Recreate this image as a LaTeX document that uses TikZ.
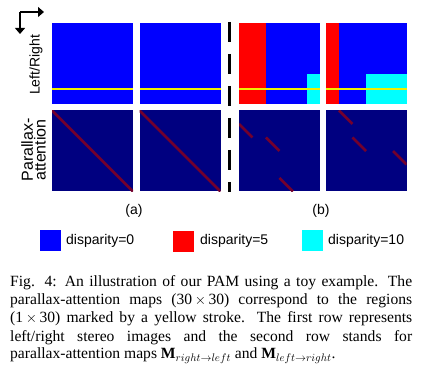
\documentclass[tikz,border=0pt]{standalone}
\usepackage{fontspec}
\setmainfont{Liberation Serif}
\newfontfamily\lsans{Liberation Sans}
\usetikzlibrary{arrows.meta}
\definecolor{pblue}{RGB}{0,0,255}
\definecolor{pred}{RGB}{255,0,0}
\definecolor{pcyan}{RGB}{0,255,255}
\definecolor{pnavy}{RGB}{0,0,128}
\definecolor{pdiag}{RGB}{115,0,45}
\definecolor{pyellow}{RGB}{240,240,0}
\begin{document}
\begin{tikzpicture}[x=1pt,y=-1pt,
  panel/.style={minimum width=81pt, minimum height=81pt, inner sep=0pt, outer sep=0pt, draw=none},
  yline/.style={draw=pyellow, line width=2pt},
  diagline/.style={draw=pdiag, line width=2.6pt},
  lab/.style={inner sep=0pt, font=\lsans\fontsize{14}{16}\selectfont},
  legsq/.style={minimum width=21pt, minimum height=21pt, inner sep=0pt, anchor=north west},
  legtxt/.style={lab, anchor=base west},
  captxt/.style={inner sep=0pt, anchor=base west, font=\fontsize{15.6}{17}\selectfont},
  axisarrow/.style={line width=1.2pt, -{Triangle[length=6pt,width=10pt]}},
  sepline/.style={line width=3pt, dash pattern=on 20pt off 12pt}
]
\path[use as bounding box, fill=white] (0,0) rectangle (421,374);

% axis icon
\coordinate (corner) at (20,12);
\coordinate (xend) at (44,12);
\coordinate (yend) at (20,34);
\draw[axisarrow] (corner) -- (xend);
\draw[axisarrow] (corner) -- (yend);

% top row panels
\node[panel, fill=pblue] (L1) at (92.5,63.5) {};
\node[panel, fill=pblue] (L2) at (180,63.5) {};
\node[panel, fill=pblue] (L3) at (279.5,63.5) {};
\node[panel, fill=pblue] (L4) at (366,63.5) {};
% bottom row panels
\node[panel, fill=pnavy] (A1) at (92.5,151) {};
\node[panel, fill=pnavy] (A2) at (180,151) {};
\node[panel, fill=pnavy] (A3) at (279.5,151) {};
\node[panel, fill=pnavy] (A4) at (366,151) {};

% panel contents
\begin{scope}[shift={(L1.north west)}, x=2.7pt, y=-2.7pt]
  \draw[yline] (0,24.4) -- (30,24.4);
\end{scope}
\begin{scope}[shift={(L2.north west)}, x=2.7pt, y=-2.7pt]
  \draw[yline] (0,24.4) -- (30,24.4);
\end{scope}
\begin{scope}[shift={(L3.north west)}, x=2.7pt, y=-2.7pt]
  \fill[pred] (0,0) rectangle (10,30);
  \fill[pcyan] (25,19) rectangle (30,30);
  \draw[yline] (0,24.4) -- (30,24.4);
\end{scope}
\begin{scope}[shift={(L4.north west)}, x=2.7pt, y=-2.7pt]
  \fill[pred] (0,0) rectangle (5,30);
  \fill[pcyan] (15,19) rectangle (30,30);
  \draw[yline] (0,24.4) -- (30,24.4);
\end{scope}
\begin{scope}[shift={(A1.north west)}, x=2.7pt, y=-2.7pt]
  \clip (0,0) rectangle (30,30);
  \draw[diagline] (0,0) -- (30,30);
\end{scope}
\begin{scope}[shift={(A2.north west)}, x=2.7pt, y=-2.7pt]
  \clip (0,0) rectangle (30,30);
  \draw[diagline] (0,0) -- (30,30);
\end{scope}
\begin{scope}[shift={(A3.north west)}, x=2.7pt, y=-2.7pt]
  \clip (0,0) rectangle (30,30);
  \draw[diagline] (0,5) -- (5,10);
  \draw[diagline] (10,10) -- (15,15);
  \draw[diagline] (15,25) -- (20,30);
\end{scope}
\begin{scope}[shift={(A4.north west)}, x=2.7pt, y=-2.7pt]
  \clip (0,0) rectangle (30,30);
  \draw[diagline] (5,0) -- (10,5);
  \draw[diagline] (10,10) -- (15,15);
  \draw[diagline] (25,15) -- (30,20);
\end{scope}

% dashed separator
\coordinate (dtop) at (229,22);
\coordinate (dbot) at (229,192);
\draw[sepline] (dtop) -- (dbot);

% row labels
\node[lab, rotate=90] (lr) at (36,65) {Left/Right};
\node[lab, rotate=90, align=center, font=\lsans\fontsize{16}{11}\selectfont] (pa) at (33.5,150) {Parallax-\\attention};

% sub labels
\node[lab] (suba) at (134,210.5) {(a)};
\node[lab] (subb) at (321,210.5) {(b)};

% legend
\node[legsq, fill=pblue] (s0) at (40,230) {};
\node[legsq, fill=pred] (s5) at (173,231) {};
\node[legsq, fill=pcyan] (s10) at (302,230) {};
\node[legtxt] (t0) at (66,245) {disparity=0};
\node[legtxt] (t5) at (200,245) {disparity=5};
\node[legtxt] (t10) at (328,245) {disparity=10};

% caption
\node[captxt] (c1) at (10,287) {\hbox to 402pt{Fig. 4: An illustration of our PAM using a toy example. The}};
\node[captxt] (c2) at (10,305) {\hbox to 402pt{parallax-attention maps (30\,$\times$\,30) correspond to the regions}};
\node[captxt] (c3) at (10,323) {\hbox to 402pt{(1\,$\times$\,30) marked by a yellow stroke. The first row represents}};
\node[captxt] (c4) at (10,341.5) {\hbox to 402pt{left/right stereo images and the second row stands for}};
\node[captxt] (c5) at (10,359) {parallax-attention maps $\mathbf{M}_{right\rightarrow left}$ and $\mathbf{M}_{left\rightarrow right}$.};
\end{tikzpicture}
\end{document}
